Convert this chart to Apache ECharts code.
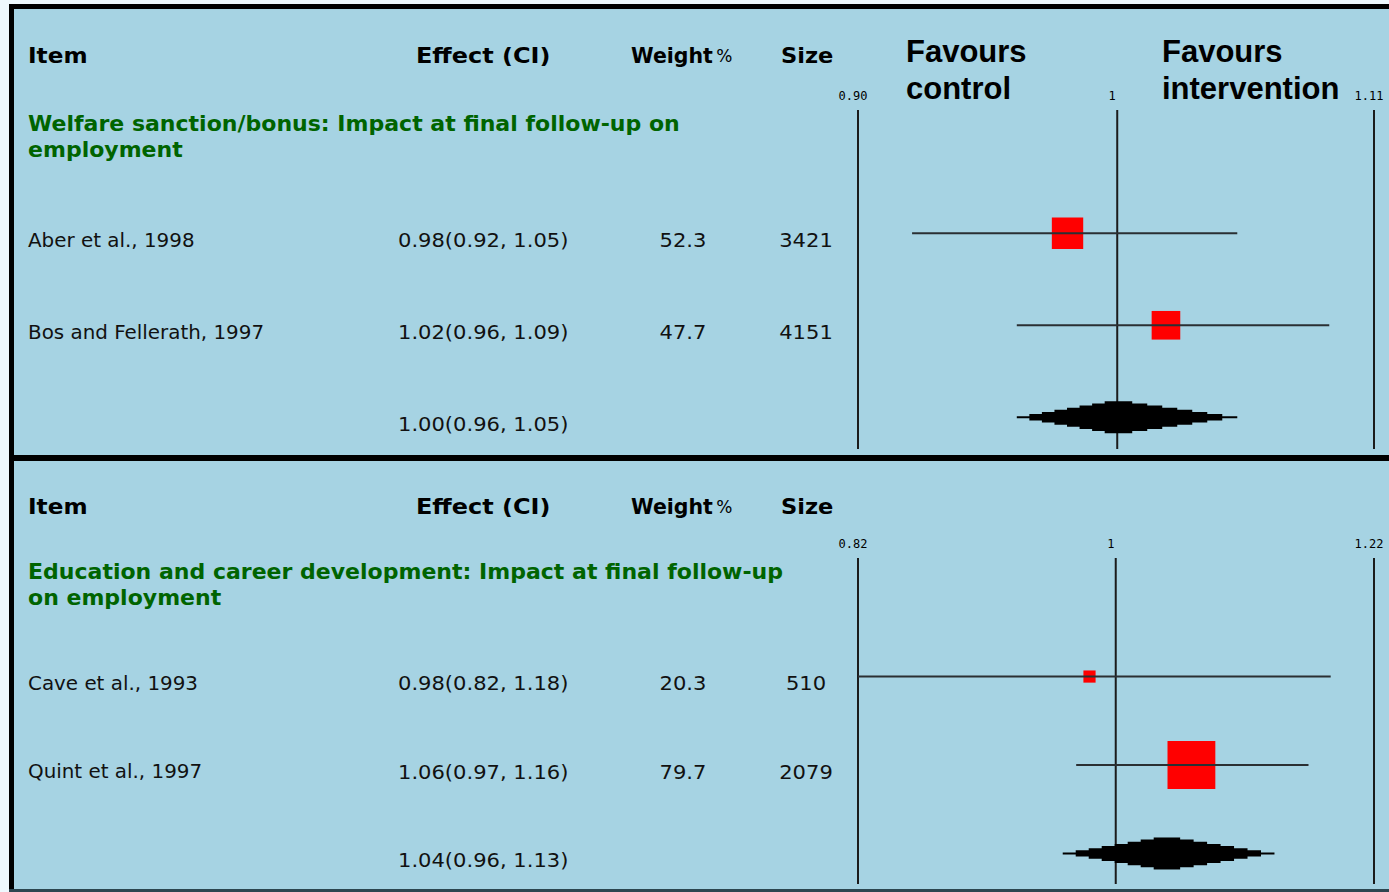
<!DOCTYPE html>
<html>
<head>
<meta charset="utf-8">
<title>Forest plot: impact at final follow-up on employment</title>
<script src="https://cdn.jsdelivr.net/npm/echarts@6/dist/echarts.min.js"></script>
<style>
  html, body { margin: 0; padding: 0; background: #eef8fd; }
  #chart { width: 1389px; height: 892px; }
</style>
</head>
<body>
<div id="chart"></div>
<script>
// ---- data ----
const columnHeaders = ['Item', 'Effect (CI)', 'Weight %', 'Size'];
const favourLabels = [['Favours', 'control'], ['Favours', 'intervention']];

const groupTitle1 = ['Welfare sanction/bonus: Impact at final follow-up on', 'employment'];
const studies1 = ['Aber et al., 1998', 'Bos and Fellerath, 1997'];
const effect1 = [0.98, 1.02];
const lower1 = [0.92, 0.96];
const upper1 = [1.05, 1.09];
const weight1 = [52.3, 47.7];
const size1 = [3421, 4151];
const pooled1 = [1.00, 0.96, 1.05];          // estimate, lower, upper
const ticks1 = [0.90, 1, 1.11];
const tickLabels1 = ['0.90', '1', '1.11'];

const groupTitle2 = ['Education and career development: Impact at final follow-up', 'on employment'];
const studies2 = ['Cave et al., 1993', 'Quint et al., 1997'];
const effect2 = [0.98, 1.06];
const lower2 = [0.82, 0.97];
const upper2 = [1.18, 1.16];
const weight2 = [20.3, 79.7];
const size2 = [510, 2079];
const pooled2 = [1.04, 0.96, 1.13];
const ticks2 = [0.82, 1, 1.22];
const tickLabels2 = ['0.82', '1', '1.22'];

// ---- styling / layout ----
const PANEL_BG = '#a6d3e3';
const FRAME = '#000000';
const GREEN = '#006400';
const SANS = '"DejaVu Sans", Verdana, sans-serif';
const HEAD_FONT = { fontFamily: SANS, fontSize: 20.5, fontWeight: 'bold' };
const ROW_FONT = { fontFamily: SANS, fontSize: 19.5, fontWeight: 'normal' };
const HEADER_STRETCH = [1.13, 1.17, 1.0, 1.1];
const TITLE_STRETCH = 1.075;
const NAME_STRETCH = 1.02;
const NUM_STRETCH = 1.08;
const COL_X = { item: 28, effect: 398, weight: 683, size: 806 };
const HEADER_X = [28, 416, 631, 781];
const ROW_TEXT_DY = 7;
const SQUARE_PX_PER_WEIGHT = 0.6;
const DIAMOND_H = 32;
const DIAMOND_STEPS = 8;
const Y_MIN = -1.34, Y_MAX = 2.345;

const panels = [
  { title: groupTitle1, studies: studies1, effect: effect1, lower: lower1, upper: upper1,
    weight: weight1, size: size1, pooled: pooled1, ticks: ticks1, tickLabels: tickLabels1,
    headerY: 56, titleY: 124, gridTop: 110, gridHeight: 339 },
  { title: groupTitle2, studies: studies2, effect: effect2, lower: lower2, upper: upper2,
    weight: weight2, size: size2, pooled: pooled2, ticks: ticks2, tickLabels: tickLabels2,
    headerY: 507, titleY: 572, gridTop: 558, gridHeight: 326 }
];

function fmtCI(est, lo, hi) {
  return est.toFixed(2) + '(' + lo.toFixed(2) + ', ' + hi.toFixed(2) + ')';
}

function textEl(str, x, y, font, fill, align, stretch) {
  return {
    type: 'text', x: x, y: y, scaleX: stretch || 1,
    style: {
      text: str, x: 0, y: 0, fill: fill,
      fontFamily: font.fontFamily, fontSize: font.fontSize, fontWeight: font.fontWeight,
      align: align, textAlign: align, verticalAlign: 'middle', textVerticalAlign: 'middle'
    }
  };
}

// "Weight %": bold word with a lighter, smaller percent sign
function weightHeaderEl(str, x, y) {
  const parts = str.split(' ');
  return {
    type: 'text', x: x, y: y,
    style: {
      text: '{b|' + parts[0] + '} {p|' + parts[1] + '}', x: 0, y: 0, fill: '#000',
      align: 'left', textAlign: 'left', verticalAlign: 'middle', textVerticalAlign: 'middle',
      rich: {
        b: { fontFamily: SANS, fontSize: 20.5, fontWeight: 'bold', fill: '#000', color: '#000' },
        p: { fontFamily: SANS, fontSize: 17, fontWeight: 'normal', fill: '#000', color: '#000' }
      }
    }
  };
}

// study rows: square sized by weight, CI whisker drawn on top
function renderStudy(params, api) {
  const row = api.value(0);
  const c = api.coord([api.value(1), row]);
  const l = api.coord([api.value(2), row]);
  const h = api.coord([api.value(3), row]);
  const side = api.value(4) * SQUARE_PX_PER_WEIGHT;
  return {
    type: 'group',
    children: [
      { type: 'rect', shape: { x: c[0] - side / 2, y: c[1] - side / 2, width: side, height: side },
        style: { fill: '#ff0000' } },
      { type: 'line', shape: { x1: l[0], y1: l[1], x2: h[0], y2: h[1] },
        style: { stroke: '#2a2f33', lineWidth: 2 } }
    ]
  };
}

// pooled estimate: stepped black diamond from lower to upper limit
function renderPooled(params, api) {
  const row = api.value(0);
  const c = api.coord([api.value(1), row]);
  const l = api.coord([api.value(2), row]);
  const h = api.coord([api.value(3), row]);
  const kids = [];
  for (let k = 0; k < DIAMOND_STEPS; k++) {
    const x0 = l[0] + (c[0] - l[0]) * k / DIAMOND_STEPS;
    const x1 = h[0] - (h[0] - c[0]) * k / DIAMOND_STEPS;
    const hh = 2 + (DIAMOND_H - 2) * k / (DIAMOND_STEPS - 1);
    kids.push({ type: 'rect', shape: { x: x0, y: c[1] - hh / 2, width: x1 - x0, height: hh },
                style: { fill: '#000000' } });
  }
  return { type: 'group', children: kids };
}

// reference lines at the scale ends and at no effect, with their labels
function makeRefRenderer(labels) {
  return function (params, api) {
    const p = api.coord([api.value(0), 0]);
    const cs = params.coordSys;
    return {
      type: 'group',
      children: [
        { type: 'line', shape: { x1: p[0], y1: cs.y, x2: p[0], y2: cs.y + cs.height },
          style: { stroke: '#1b1b1b', lineWidth: 2 } },
        { type: 'text', x: p[0] - 5, y: cs.y - 14,
          style: { text: labels[params.dataIndex], x: 0, y: 0, fill: '#000',
                   fontFamily: '"DejaVu Sans Mono", monospace', fontSize: 12,
                   align: 'center', textAlign: 'center', verticalAlign: 'middle', textVerticalAlign: 'middle' } }
      ]
    };
  };
}

// table text for each row, aligned to the same vertical axis as the marks
function makeTableRenderer(panel) {
  return function (params, api) {
    const row = api.value(0);
    const y = api.coord([1, row])[1] + ROW_TEXT_DY;
    const i = params.dataIndex;
    const kids = [];
    if (i < panel.studies.length) {
      kids.push(textEl(panel.studies[i], COL_X.item, y, ROW_FONT, '#111', 'left', NAME_STRETCH));
      kids.push(textEl(fmtCI(panel.effect[i], panel.lower[i], panel.upper[i]), COL_X.effect, y, ROW_FONT, '#111', 'left', NUM_STRETCH));
      kids.push(textEl(panel.weight[i].toFixed(1), COL_X.weight, y, ROW_FONT, '#111', 'center', NUM_STRETCH));
      kids.push(textEl(String(panel.size[i]), COL_X.size, y, ROW_FONT, '#111', 'center', NUM_STRETCH));
    } else {
      kids.push(textEl(fmtCI(panel.pooled[0], panel.pooled[1], panel.pooled[2]), COL_X.effect, y, ROW_FONT, '#111', 'left', NUM_STRETCH));
    }
    return { type: 'group', children: kids };
  };
}

const grids = [], xAxes = [], yAxes = [], series = [];
panels.forEach(function (p, g) {
  grids.push({ left: 858, right: 15, top: p.gridTop, height: p.gridHeight });
  xAxes.push({ type: 'log', logBase: 10, gridIndex: g, min: p.ticks[0], max: p.ticks[p.ticks.length - 1],
               show: false, splitLine: { show: false } });
  yAxes.push({ type: 'value', gridIndex: g, min: Y_MIN, max: Y_MAX, inverse: true, show: false,
               splitLine: { show: false } });
  const rowIdx = p.studies.map(function (s, i) { return i; }).concat([p.studies.length]);
  series.push({
    type: 'custom', name: 'ref' + g, xAxisIndex: g, yAxisIndex: g, silent: true, clip: false, z: 2,
    renderItem: makeRefRenderer(p.tickLabels),
    data: p.ticks.map(function (v) { return [v]; })
  });
  series.push({
    type: 'custom', name: 'studies' + g, xAxisIndex: g, yAxisIndex: g, silent: true, clip: false, z: 3,
    renderItem: renderStudy,
    encode: { x: [1, 2, 3], y: 0 },
    data: p.studies.map(function (s, i) { return [i, p.effect[i], p.lower[i], p.upper[i], p.weight[i]]; })
  });
  series.push({
    type: 'custom', name: 'pooled' + g, xAxisIndex: g, yAxisIndex: g, silent: true, clip: false, z: 3,
    renderItem: renderPooled,
    encode: { x: [1, 2, 3], y: 0 },
    data: [[p.studies.length, p.pooled[0], p.pooled[1], p.pooled[2]]]
  });
  series.push({
    type: 'custom', name: 'table' + g, xAxisIndex: g, yAxisIndex: g, silent: true, clip: false, z: 4,
    renderItem: makeTableRenderer(p),
    encode: { y: 0 },
    data: rowIdx.map(function (r) { return [r]; })
  });
});

// frame, panel backgrounds, headers and subgroup titles
const graphics = [
  { type: 'rect', z: -10, shape: { x: 14, y: 9, width: 1375, height: 880 }, style: { fill: PANEL_BG } },
  { type: 'rect', z: -5, shape: { x: 9, y: 4, width: 5, height: 888 }, style: { fill: FRAME } },
  { type: 'rect', z: -5, shape: { x: 9, y: 4, width: 1380, height: 5 }, style: { fill: FRAME } },
  { type: 'rect', z: -5, shape: { x: 9, y: 455, width: 1380, height: 6 }, style: { fill: FRAME } },
  { type: 'rect', z: -5, shape: { x: 9, y: 889, width: 1380, height: 3 }, style: { fill: '#2c4650' } }
];
panels.forEach(function (p) {
  columnHeaders.forEach(function (h, j) {
    if (h.indexOf('%') >= 0) {
      graphics.push(weightHeaderEl(h, HEADER_X[j], p.headerY));
    } else {
      graphics.push(textEl(h, HEADER_X[j], p.headerY, HEAD_FONT, '#000', 'left', HEADER_STRETCH[j]));
    }
  });
  p.title.forEach(function (line, j) {
    graphics.push(textEl(line, 28, p.titleY + j * 26, HEAD_FONT, GREEN, 'left', TITLE_STRETCH));
  });
});
const FAV_FONT = { fontFamily: '"Liberation Sans", Arial, sans-serif', fontSize: 31, fontWeight: 'bold' };
[906, 1162].forEach(function (x, k) {
  favourLabels[k].forEach(function (line, j) {
    graphics.push(textEl(line, x, 51 + j * 37, FAV_FONT, '#000', 'left', 1));
  });
});

const chart = echarts.init(document.getElementById('chart'), null, { renderer: 'svg' });
chart.setOption({
  animation: false,
  backgroundColor: '#eef8fd',
  grid: grids,
  xAxis: xAxes,
  yAxis: yAxes,
  series: series,
  graphic: { elements: graphics }
});
</script>
</body>
</html>
